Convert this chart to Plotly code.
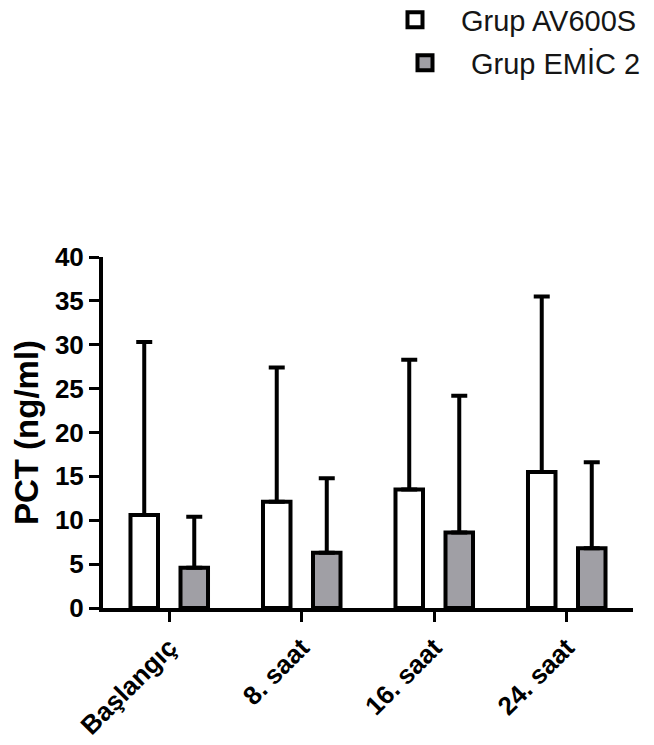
import plotly.graph_objects as go

categories = ["Başlangıç", "8. saat", "16. saat", "24. saat"]
av600s_mean = [10.6, 12.1, 13.5, 15.5]
av600s_sd = [19.7, 15.3, 14.8, 20.0]
emic2_mean = [4.6, 6.3, 8.6, 6.8]
emic2_sd = [5.8, 8.5, 15.6, 9.8]
series_names = ["Grup AV600S", "Grup EMİC 2"]
series_colors = ["white", "#a09fa5"]
y_ticks = [0, 5, 10, 15, 20, 25, 30, 35, 40]

FONT = "Arial, Liberation Sans, Helvetica, sans-serif"
W, H = 654, 745

fig = go.Figure()
for name, color, means, sds in [
    (series_names[0], series_colors[0], av600s_mean, av600s_sd),
    (series_names[1], series_colors[1], emic2_mean, emic2_sd),
]:
    fig.add_trace(go.Bar(
        x=categories, y=means, name=name, showlegend=False,
        marker=dict(color=color, line=dict(color="black", width=4)),
        error_y=dict(type="data", array=sds, arrayminus=[0] * len(sds), symmetric=False,
                     color="black", thickness=4, width=8),
    ))

# legend entries (larger square swatches like the original)
for i, (name, color) in enumerate(zip(series_names, series_colors)):
    fig.add_trace(go.Scatter(
        x=[None], y=[None], mode="markers", name=name,
        marker=dict(symbol="square", size=15, color=color, line=dict(color="black", width=4)),
        legend="legend" if i == 0 else "legend2", showlegend=True,
    ))

legend_font = dict(size=29, color="#151515", family=FONT)
fig.update_layout(
    width=W, height=H,
    margin=dict(l=95, r=29, t=249, b=145, autoexpand=False),
    paper_bgcolor="white", plot_bgcolor="white",
    barmode="group", bargap=0.245, bargroupgap=0.45,
    font=dict(family=FONT, color="black"),
    showlegend=True,
    legend=dict(x=361 / W, y=1 - 12 / H, xref="container", yref="container",
                xanchor="left", yanchor="middle", font=legend_font,
                bgcolor="rgba(0,0,0,0)", itemwidth=82),
    legend2=dict(x=371 / W, y=1 - 55 / H, xref="container", yref="container",
                 xanchor="left", yanchor="middle", font=legend_font,
                 bgcolor="rgba(0,0,0,0)", itemwidth=82),
)

fig.update_xaxes(
    showline=True, linecolor="black", linewidth=4, showgrid=False, zeroline=False,
    ticks="outside", ticklen=10, tickwidth=3, tickcolor="black",
    tickangle=-45, tickfont=dict(size=26, family=FONT, color="black", weight="bold"),
    range=[-0.5, 3.5],
)
fig.update_yaxes(
    showline=True, linecolor="black", linewidth=4, showgrid=False, zeroline=False,
    ticks="outside", ticklen=10, tickwidth=3, tickcolor="black",
    tickvals=y_ticks, ticktext=[str(v) for v in y_ticks], range=[0, 40],
    tickfont=dict(size=26, family=FONT, color="black", weight="bold"),
    title=dict(text="PCT (ng/ml)", font=dict(size=33, family=FONT, color="black", weight="bold"),
               standoff=8),
)

fig.write_html("out.html")
